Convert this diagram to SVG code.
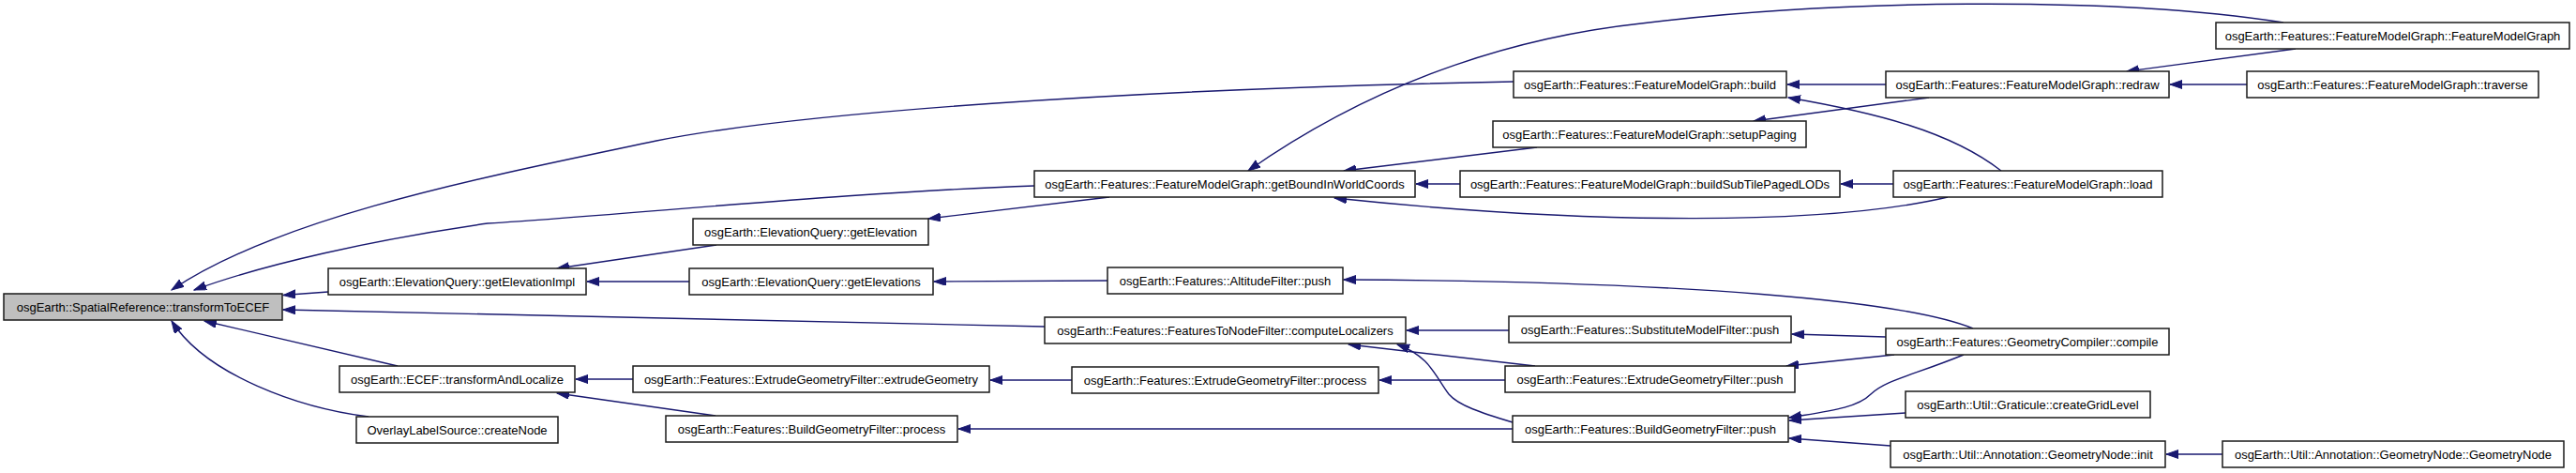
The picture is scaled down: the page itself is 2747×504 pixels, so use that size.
<svg xmlns="http://www.w3.org/2000/svg" width="2747" height="504" viewBox="0 0 2747 504">
<style>
.node rect{fill:#ffffff;stroke:#1a1a1a;stroke-width:1.5}
.node.main rect{fill:#bfbfbf}
.node text{font-family:"Liberation Sans",Arial,sans-serif;font-size:13px;text-anchor:middle;fill:#000}
.edges path{fill:none;stroke:#191970;stroke-width:1.4;marker-end:url(#arr)}
</style>
<defs>
<marker id="arr" markerUnits="userSpaceOnUse" markerWidth="14" markerHeight="10" refX="13" refY="4.5" orient="auto" viewBox="0 0 14 10">
<path d="M0,0 L13,4.5 L0,9 z" fill="#191970" stroke="#191970" stroke-width="1"/>
</marker>
</defs>
<rect x="0" y="0" width="2747" height="504" fill="#ffffff"/>
<g class="edges" id="edges">
<path d="M350,311 L302,314.5"/>
<path d="M1114,348 Q650,337 302,330"/>
<path d="M1103,198 C900,205 680,228 520,238 C400,255 280,282 207,309"/>
<path d="M1614,87 C1200,95 850,120 700,150 C520,188 300,230 183,309"/>
<path d="M424,390 L218,342"/>
<path d="M393,444 C320,435 220,400 183,342"/>
<path d="M764,261 L594,286"/>
<path d="M735,300 L626,300"/>
<path d="M1183,210 L990,233"/>
<path d="M1181,299 L996,300"/>
<path d="M675,404 L614,404"/>
<path d="M763,443 L594,419"/>
<path d="M1143,405 L1056,405"/>
<path d="M1613,457 L1022,457"/>
<path d="M2435,24 C2250,-5 1950,0 1750,25 C1630,38 1480,78 1331,182"/>
<path d="M2011,90 L1906,90"/>
<path d="M2134,182 C2080,140 2000,120 1907,104"/>
<path d="M2057,104 L1870,129"/>
<path d="M2448,52 L2268,76"/>
<path d="M2396,90 L2314,90"/>
<path d="M2019,196 L1963,196"/>
<path d="M1639,157 L1433,182"/>
<path d="M1557,196 L1510,196"/>
<path d="M2077,210 C1950,240 1700,240 1423,211"/>
<path d="M1609,352 L1500,352"/>
<path d="M1637,390 L1438,367"/>
<path d="M1613,450 C1580,440 1555,432 1545,420 C1530,400 1525,380 1490,367"/>
<path d="M1605,405 L1471,405"/>
<path d="M2104,350 C2030,320 1800,300 1433,298"/>
<path d="M2011,359 L1911,356"/>
<path d="M2020,378 L1905,390"/>
<path d="M2094,378 C2040,400 2010,405 1995,420 C1980,435 1950,438 1908,445"/>
<path d="M2032,440 L1908,448"/>
<path d="M2016,475 L1908,467"/>
<path d="M2370,484 L2310,484"/>
</g>
<g class="node main" id="n_transformToECEF"><rect x="4" y="313" width="297" height="28"/><text x="152.5" y="331.5">osgEarth::SpatialReference::transformToECEF</text></g>
<g class="node" id="n_getElevationImpl"><rect x="350" y="286" width="275" height="28"/><text x="487.5" y="304.5">osgEarth::ElevationQuery::getElevationImpl</text></g>
<g class="node" id="n_transformAndLocalize"><rect x="362" y="390" width="251" height="28"/><text x="487.5" y="408.5">osgEarth::ECEF::transformAndLocalize</text></g>
<g class="node" id="n_createNode"><rect x="380" y="444" width="215" height="28"/><text x="487.5" y="462.5">OverlayLabelSource::createNode</text></g>
<g class="node" id="n_getElevation"><rect x="739" y="233" width="251" height="28"/><text x="864.5" y="251.5">osgEarth::ElevationQuery::getElevation</text></g>
<g class="node" id="n_getElevations"><rect x="735" y="286" width="260" height="28"/><text x="865" y="304.5">osgEarth::ElevationQuery::getElevations</text></g>
<g class="node" id="n_extrudeGeometry"><rect x="675" y="390" width="380" height="28"/><text x="865" y="408.5">osgEarth::Features::ExtrudeGeometryFilter::extrudeGeometry</text></g>
<g class="node" id="n_bgf_process"><rect x="710" y="443" width="311" height="28"/><text x="865.5" y="461.5">osgEarth::Features::BuildGeometryFilter::process</text></g>
<g class="node" id="n_getBound"><rect x="1103" y="182" width="406" height="28"/><text x="1306" y="200.5">osgEarth::Features::FeatureModelGraph::getBoundInWorldCoords</text></g>
<g class="node" id="n_altitude_push"><rect x="1181" y="285" width="251" height="28"/><text x="1306.5" y="303.5">osgEarth::Features::AltitudeFilter::push</text></g>
<g class="node" id="n_computeLocalizers"><rect x="1114" y="338" width="385" height="28"/><text x="1306.5" y="356.5">osgEarth::Features::FeaturesToNodeFilter::computeLocalizers</text></g>
<g class="node" id="n_egf_process"><rect x="1143" y="391" width="327" height="28"/><text x="1306.5" y="409.5">osgEarth::Features::ExtrudeGeometryFilter::process</text></g>
<g class="node" id="n_build"><rect x="1614" y="76" width="291" height="28"/><text x="1759.5" y="94.5">osgEarth::Features::FeatureModelGraph::build</text></g>
<g class="node" id="n_setupPaging"><rect x="1592" y="129" width="334" height="28"/><text x="1759" y="147.5">osgEarth::Features::FeatureModelGraph::setupPaging</text></g>
<g class="node" id="n_buildSubTile"><rect x="1557" y="182" width="405" height="28"/><text x="1759.5" y="200.5">osgEarth::Features::FeatureModelGraph::buildSubTilePagedLODs</text></g>
<g class="node" id="n_substitute_push"><rect x="1609" y="337" width="301" height="28"/><text x="1759.5" y="355.5">osgEarth::Features::SubstituteModelFilter::push</text></g>
<g class="node" id="n_extrude_push"><rect x="1605" y="390" width="309" height="28"/><text x="1759.5" y="408.5">osgEarth::Features::ExtrudeGeometryFilter::push</text></g>
<g class="node" id="n_build_push"><rect x="1613" y="443" width="294" height="28"/><text x="1760" y="461.5">osgEarth::Features::BuildGeometryFilter::push</text></g>
<g class="node" id="n_redraw"><rect x="2011" y="76" width="302" height="28"/><text x="2162" y="94.5">osgEarth::Features::FeatureModelGraph::redraw</text></g>
<g class="node" id="n_load"><rect x="2019" y="182" width="287" height="28"/><text x="2162.5" y="200.5">osgEarth::Features::FeatureModelGraph::load</text></g>
<g class="node" id="n_compile"><rect x="2011" y="350" width="302" height="28"/><text x="2162" y="368.5">osgEarth::Features::GeometryCompiler::compile</text></g>
<g class="node" id="n_createGridLevel"><rect x="2032" y="417" width="261" height="28"/><text x="2162.5" y="435.5">osgEarth::Util::Graticule::createGridLevel</text></g>
<g class="node" id="n_init"><rect x="2016" y="470" width="293" height="28"/><text x="2162.5" y="488.5">osgEarth::Util::Annotation::GeometryNode::init</text></g>
<g class="node" id="n_fmg_ctor"><rect x="2363" y="24" width="377" height="28"/><text x="2551.5" y="42.5">osgEarth::Features::FeatureModelGraph::FeatureModelGraph</text></g>
<g class="node" id="n_traverse"><rect x="2396" y="76" width="311" height="28"/><text x="2551.5" y="94.5">osgEarth::Features::FeatureModelGraph::traverse</text></g>
<g class="node" id="n_geomnode_ctor"><rect x="2370" y="470" width="364" height="28"/><text x="2552" y="488.5">osgEarth::Util::Annotation::GeometryNode::GeometryNode</text></g>
</svg>
